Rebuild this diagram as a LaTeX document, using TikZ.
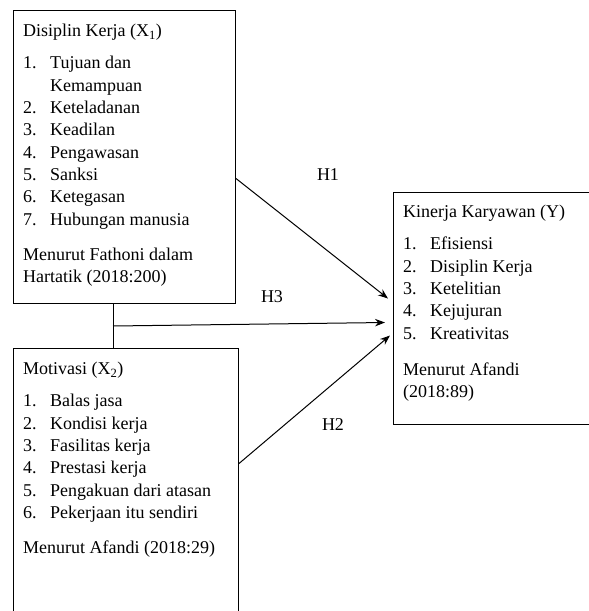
\documentclass[tikz,border=0pt]{standalone}
\usepackage{fontspec}
\setmainfont{Liberation Serif}
\usetikzlibrary{arrows.meta, positioning}
\tikzset{
    %Define standard arrow tip
    >={Stealth[length=10pt,width=7.5pt]},
}
\newcommand{\itm}[2]{\makebox[27pt][l]{#1}#2}

\begin{document}
\begin{tikzpicture}[x=1pt,y=1pt]
    \tikzset{
	  box/.style={draw, shape=rectangle,
	             line width=1pt,
	             anchor=north west, inner sep=0pt},
	  txt/.style={anchor=north west, align=left, inner sep=0pt,
	             font=\fontsize{18}{22.3}\selectfont},
	  lbl/.style={inner sep=0pt, font=\fontsize{18}{22}\selectfont},
	  conn/.style={line width=1pt}
	}
	\clip (0,0) rectangle (589,-611);

	% boxes
	\node [box, minimum width=222pt, minimum height=293pt] (x1) at (13,-10) {};
	\node [box, minimum width=225pt, minimum height=300pt] (x2) at (13,-348) {};
	\node [box, minimum width=230pt, minimum height=232pt] (y) at (393,-192) {};

	\node [txt] (x1t) at (23,-24) {Disiplin Kerja (X\textsubscript{1})\\[10pt]
	    \itm{1.}{Tujuan dan}\\
	    \itm{}{Kemampuan}\\
	    \itm{2.}{Keteladanan}\\
	    \itm{3.}{Keadilan}\\
	    \itm{4.}{Pengawasan}\\
	    \itm{5.}{Sanksi}\\
	    \itm{6.}{Ketegasan}\\
	    \itm{7.}{Hubungan manusia}\\[13pt]
	    Menurut Fathoni dalam\\
	    Hartatik (2018:200)};

	\node [txt] (x2t) at (23,-362) {Motivasi (X\textsubscript{2})\\[10pt]
	    \itm{1.}{Balas jasa}\\
	    \itm{2.}{Kondisi kerja}\\
	    \itm{3.}{Fasilitas kerja}\\
	    \itm{4.}{Prestasi kerja}\\
	    \itm{5.}{Pengakuan dari atasan}\\
	    \itm{6.}{Pekerjaan itu sendiri}\\[13pt]
	    Menurut Afandi (2018:29)};

	\node [txt] (yt) at (403,-205) {Kinerja Karyawan (Y)\\[10pt]
	    \itm{1.}{Efisiensi}\\
	    \itm{2.}{Disiplin Kerja}\\
	    \itm{3.}{Ketelitian}\\
	    \itm{4.}{Kejujuran}\\
	    \itm{5.}{Kreativitas}\\[14pt]
	    Menurut Afandi\\
	    (2018:89)};

	% connectors
	\coordinate (jn) at (113,-326);
	\coordinate (s1) at ([yshift=-21.5pt]x1.east);
	\coordinate (s2) at ([yshift=35pt]x2.east);
	\coordinate (t1) at ([xshift=-5pt, yshift=10pt]y.west);
	\coordinate (t3) at ([xshift=-8pt, yshift=-14pt]y.west);
	\coordinate (t2) at ([xshift=-3pt, yshift=-27pt]y.west);

	\draw [conn] (x1.south -| jn) -- (x2.north -| jn);
	\draw [conn, ->] (s1) -- (t1);
	\draw [conn, ->] (jn) -- (t3);
	\draw [conn, ->] (s2) -- (t2);

	\node [lbl] (h1) at (328,-175) {H1};
	\node [lbl] (h3) at (272,-297) {H3};
	\node [lbl] (h2) at (333,-425) {H2};
\end{tikzpicture}
\end{document}
